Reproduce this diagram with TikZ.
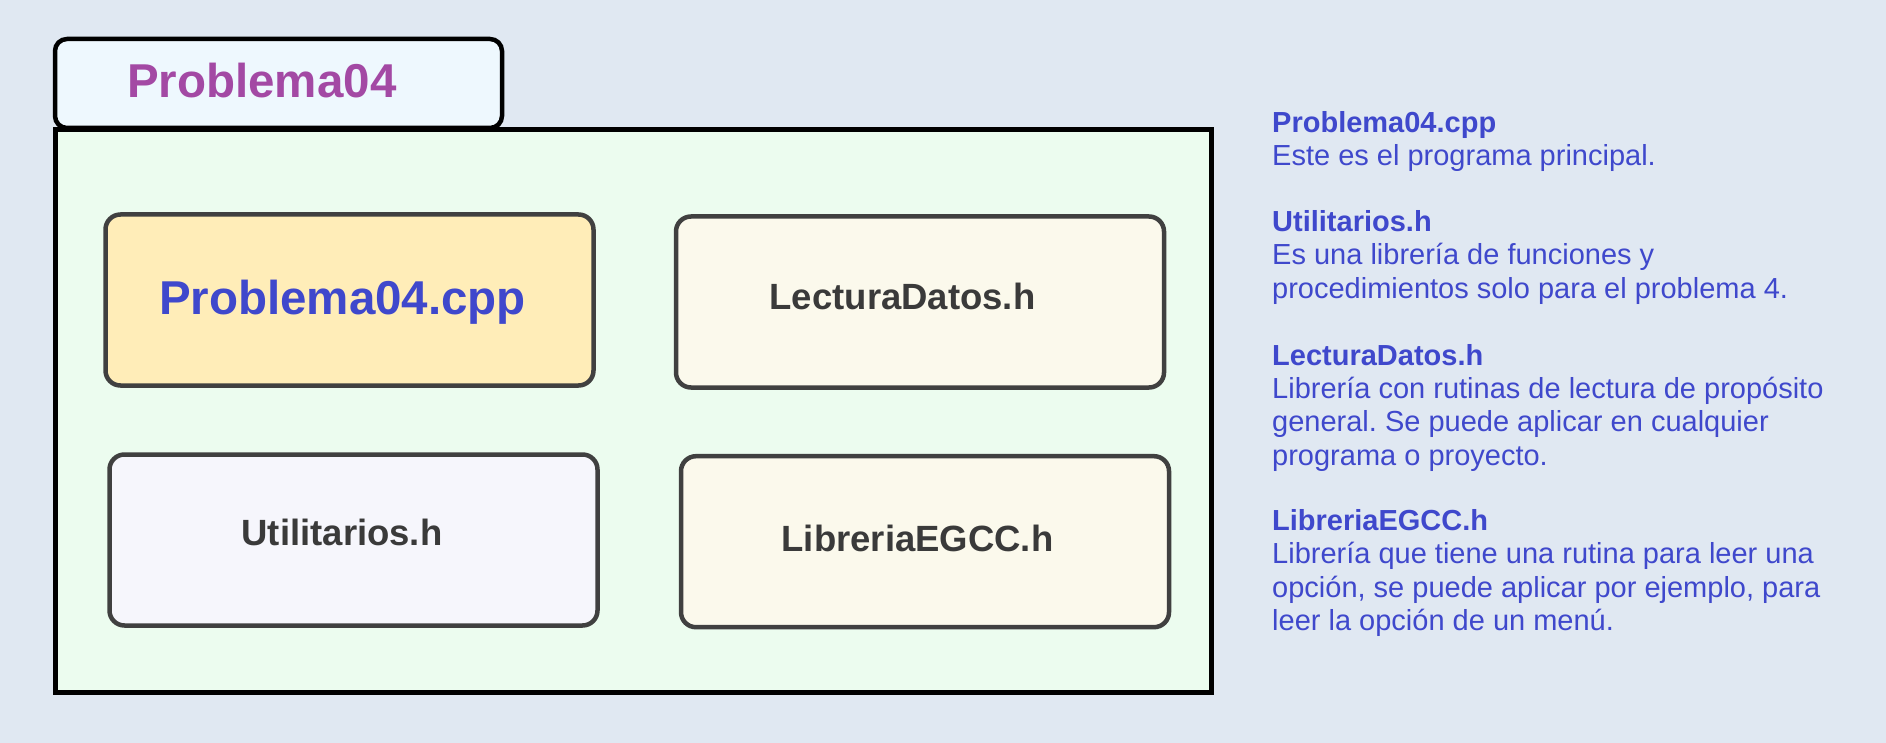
\documentclass[tikz,border=0pt]{standalone}
\usepackage{fontspec}
\usepackage{xcolor}
\usepackage{tikz}
\setmainfont{Liberation Sans}
\frenchspacing
\definecolor{fondo}{HTML}{E0E8F2}
\definecolor{pestana}{HTML}{EEF8FE}
\definecolor{carpetafill}{HTML}{ECFCEF}
\definecolor{cppfill}{HTML}{FFEDB8}
\definecolor{hfill}{HTML}{FBF9EC}
\definecolor{utilfill}{HTML}{F6F6FC}
\definecolor{borde}{HTML}{404040}
\definecolor{gris}{HTML}{3A3A3A}
\definecolor{azul}{HTML}{3F48CC}
\definecolor{morado}{HTML}{A349A4}

\begin{document}
\begin{tikzpicture}[x=1pt, y=-1pt,
  caja/.style={rectangle, rounded corners=15pt, draw=borde, line width=4.5pt, minimum width=488pt, minimum height=171pt, inner sep=0pt},
  archivo/.style={anchor=base, inner sep=0pt, text=gris, font=\bfseries\fontsize{36.5}{40}\selectfont},
  nota/.style={anchor=base west, align=left, inner sep=0pt, text=azul, font=\fontsize{29}{33.3}\selectfont}]
% Background
\fill[fondo] (0,0) rectangle (1886,743);

% Folder
\node[rectangle, rounded corners=12pt, draw=black, line width=4.5pt, fill=pestana, minimum width=447pt, minimum height=89pt, inner sep=0pt] (tab) at (278.5,83.5) {};
\node[rectangle, draw=black, line width=5pt, fill=carpetafill, minimum width=1156.5pt, minimum height=562.7pt, inner sep=0pt] (folder) at (633.25,410.65) {};
\node[anchor=base, inner sep=0pt, text=morado, font=\bfseries\fontsize{47.5}{50}\selectfont] (title) at (261.8,98) {Problema04};

% Boxes
\node[caja, fill=cppfill] (cpp) at (349.5,300) {};
\node[caja, fill=hfill] (lectura) at (920,302) {};
\node[caja, fill=utilfill] (util) at (353.5,540) {};
\node[caja, fill=hfill] (egcc) at (925,541.7) {};

% Box texts
\node[archivo, text=azul, font=\bfseries\fontsize{47.5}{50}\selectfont] (cpptext) at (342.5,314) {Problema04.cpp};
\node[archivo] (lecturatext) at (902.5,309) {LecturaDatos.h};
\node[archivo] (utiltext) at (342,545) {Utilitarios.h};
\node[archivo] (egcctext) at (917.5,551) {LibreriaEGCC.h};

% Notes (placed at the baseline of their last line)
\node[nota] (notecpp) at (1272,165.8) {\textbf{Problema04.cpp}\\Este es el programa principal.};
\node[nota] (noteutil) at (1272,298.3) {\textbf{Utilitarios.h}\\Es una librería de funciones y\\procedimientos solo para el problema 4.};
\node[nota] (notelectura) at (1272,465) {\textbf{LecturaDatos.h}\\Librería con rutinas de lectura de propósito\\general. Se puede aplicar en cualquier\\programa o proyecto.};
\node[nota] (noteegcc) at (1272,630.5) {\textbf{LibreriaEGCC.h}\\Librería que tiene una rutina para leer una\\opción, se puede aplicar por ejemplo, para\\leer la opción de un menú.};
\end{tikzpicture}
\end{document}
